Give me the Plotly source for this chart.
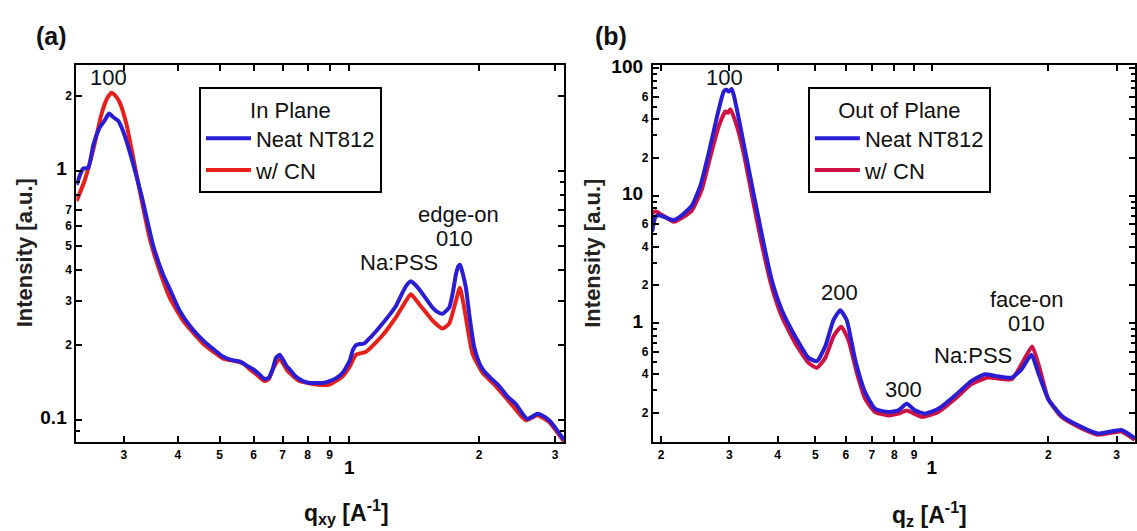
import plotly.graph_objects as go

FONT = "Liberation Sans, Arial, Helvetica, sans-serif"

# ---------------- data (a) In Plane ----------------
q_ip_neat = [0.233, 0.241, 0.248, 0.255, 0.264, 0.271, 0.277, 0.284, 0.291, 0.298,
             0.307, 0.316, 0.330, 0.343, 0.351, 0.370, 0.385, 0.404, 0.430, 0.458,
             0.485, 0.509, 0.535, 0.557, 0.580, 0.598, 0.620, 0.636, 0.650, 0.664,
             0.676, 0.689, 0.700, 0.715, 0.727, 0.750, 0.780, 0.810, 0.840, 0.870,
             0.899, 0.930, 0.965, 1.000, 1.020, 1.036, 1.060, 1.083, 1.120, 1.160,
             1.194, 1.240, 1.283, 1.320, 1.353, 1.389, 1.420, 1.452, 1.500, 1.559,
             1.600, 1.644, 1.704, 1.740, 1.766, 1.790, 1.807, 1.830, 1.863, 1.900,
             1.947, 2.000, 2.053, 2.140, 2.225, 2.330, 2.432, 2.530, 2.587, 2.650,
             2.728, 2.810, 2.904, 3.020, 3.146]
i_ip_neat = [0.88, 1.02, 1.03, 1.28, 1.50, 1.60, 1.70, 1.64, 1.59, 1.46,
             1.25, 1.05, 0.79, 0.59, 0.50, 0.383, 0.330, 0.275, 0.235, 0.209,
             0.192, 0.180, 0.174, 0.172, 0.165, 0.160, 0.152, 0.146, 0.148, 0.160,
             0.178, 0.183, 0.176, 0.165, 0.160, 0.150, 0.1435, 0.141, 0.141, 0.141,
             0.1435, 0.147, 0.155, 0.172, 0.192, 0.200, 0.202, 0.203, 0.215, 0.230,
             0.244, 0.265, 0.288, 0.318, 0.345, 0.361, 0.350, 0.335, 0.310, 0.283,
             0.272, 0.267, 0.283, 0.330, 0.383, 0.415, 0.420, 0.390, 0.340, 0.260,
             0.197, 0.170, 0.157, 0.146, 0.137, 0.124, 0.116, 0.105, 0.101, 0.103,
             0.106, 0.104, 0.0998, 0.092, 0.0832]

q_ip_cn = [0.233, 0.2435, 0.2545, 0.2661, 0.274, 0.2808, 0.287, 0.2935, 0.3041, 0.315,
           0.3295, 0.3444, 0.3633, 0.3831, 0.4113, 0.4575, 0.5088, 0.5467, 0.570, 0.587,
           0.610, 0.6357, 0.650, 0.6644, 0.6887, 0.700, 0.7199, 0.7661, 0.8374, 0.899,
           0.9649, 1.000, 1.036, 1.093, 1.194, 1.283, 1.353, 1.389, 1.452, 1.559,
           1.644, 1.704, 1.766, 1.804, 1.846, 1.929, 2.035, 2.186, 2.388, 2.565,
           2.728, 2.904, 3.146]
i_ip_cn = [0.757, 0.92, 1.21, 1.69, 1.95, 2.06, 2.00, 1.88, 1.54, 1.14,
           0.77, 0.535, 0.395, 0.310, 0.251, 0.203, 0.177, 0.172, 0.168, 0.160,
           0.152, 0.1435, 0.146, 0.160, 0.177, 0.170, 0.157, 0.1435, 0.139, 0.139,
           0.150, 0.163, 0.183, 0.188, 0.219, 0.259, 0.301, 0.320, 0.292, 0.251,
           0.233, 0.244, 0.301, 0.340, 0.283, 0.1855, 0.155, 0.137, 0.1144, 0.0998,
           0.1045, 0.0983, 0.082]

# ---------------- data (b) Out of Plane ----------------
q_op_neat = [0.1896, 0.1934, 0.1973, 0.2157, 0.2265, 0.2404, 0.2527, 0.2655, 0.2788, 0.2902,
             0.2950, 0.2990, 0.3040, 0.3080, 0.3141, 0.3266, 0.3432, 0.3641, 0.3865, 0.4101,
             0.4440, 0.4805, 0.5047, 0.5306, 0.5572, 0.5800, 0.6030, 0.6340, 0.6727, 0.7138,
             0.7725, 0.8197, 0.8612, 0.9051, 0.9605, 1.0394, 1.1475, 1.2665, 1.3714, 1.4552,
             1.6059, 1.7036, 1.8077, 1.8818, 1.9966, 2.160, 2.386, 2.686, 3.085, 3.340]
i_op_neat = [5.25, 6.86, 7.07, 6.47, 7.07, 8.45, 12.1, 21.8, 41.8, 66.0,
             68.0, 66.0, 69.0, 62.0, 47.1, 26.0, 12.1, 4.95, 2.16, 1.27,
             0.79, 0.537, 0.506, 0.661, 1.06, 1.27, 1.06, 0.52, 0.288, 0.214,
             0.202, 0.208, 0.234, 0.208, 0.196, 0.214, 0.272, 0.355, 0.399, 0.388,
             0.376, 0.436, 0.569, 0.411, 0.256, 0.190, 0.159, 0.137, 0.146, 0.126]

q_op_cn = [0.1896, 0.1934, 0.2157, 0.2265, 0.2404, 0.2551, 0.2682, 0.2816, 0.2931, 0.2975,
           0.3019, 0.3141, 0.3266, 0.3432, 0.3641, 0.3865, 0.4101, 0.4440, 0.4805, 0.5047,
           0.5306, 0.5572, 0.5834, 0.6091, 0.6400, 0.6727, 0.7138, 0.7725, 0.8197, 0.8612,
           0.9412, 1.0394, 1.1475, 1.2665, 1.3985, 1.6059, 1.7036, 1.8155, 1.9010, 1.9966,
           2.160, 2.386, 2.686, 3.085, 3.340]
i_op_cn = [7.3, 7.6, 6.28, 6.74, 7.73, 11.4, 20.5, 35.0, 46.0, 45.0,
           48.0, 35.0, 21.8, 10.1, 4.15, 1.92, 1.13, 0.70, 0.491, 0.449,
           0.537, 0.79, 0.943, 0.743, 0.411, 0.256, 0.202, 0.190, 0.196, 0.208,
           0.185, 0.202, 0.256, 0.334, 0.376, 0.365, 0.477, 0.661, 0.436, 0.256,
           0.185, 0.155, 0.134, 0.142, 0.122]

# ---------------- ticks ----------------
BIG = "<span style='font-size:19px'>{}</span>"
xa_tickvals = [0.3, 0.4, 0.5, 0.6, 0.7, 0.8, 0.9, 1, 2, 3]
xa_ticktext = ["3", "4", "5", "6", "7", "8", "9", "<br>" + BIG.format("1"), "2", "3"]
ya_tickvals = [0.1, 0.2, 0.3, 0.4, 0.5, 0.6, 0.7, 1, 2]
ya_ticktext = [BIG.format("0.1\u00a0"), "2", "3", "4", "5", "6", "7", BIG.format("1\u00a0"), "2"]
ya_minor = [0.09, 0.8, 0.9]

xb_tickvals = [0.2, 0.3, 0.4, 0.5, 0.6, 0.7, 0.8, 0.9, 1, 2, 3]
xb_ticktext = ["2", "3", "4", "5", "6", "7", "8", "9", "<br>" + BIG.format("1"), "2", "3"]
yb_tickvals = [0.2, 0.4, 0.6, 1, 2, 4, 6, 10, 20, 40, 60, 100]
yb_ticktext = ["2", "4", "6", BIG.format("1\u00a0"), "2", "4", "6", BIG.format("10\u00a0"),
               "2", "4", "6", BIG.format("100\u00a0")]
yb_minor = [0.3, 0.5, 0.7, 0.8, 0.9, 3, 5, 7, 8, 9, 30, 50, 70, 80, 90]

BLUE = "#2a1ed4"
RED_A = "#e8201c"
RED_B = "#cf1244"

fig = go.Figure()
line_kw = dict(width=4, shape="spline", smoothing=0.5)

fig.add_trace(go.Scatter(x=q_ip_cn, y=i_ip_cn, name="w/ CN", mode="lines",
                         line=dict(color=RED_A, **line_kw), xaxis="x", yaxis="y",
                         legend="legend", legendrank=2))
fig.add_trace(go.Scatter(x=q_ip_neat, y=i_ip_neat, name="Neat NT812", mode="lines",
                         line=dict(color=BLUE, **line_kw), xaxis="x", yaxis="y",
                         legend="legend", legendrank=1))
fig.add_trace(go.Scatter(x=q_op_cn, y=i_op_cn, name="w/ CN", mode="lines",
                         line=dict(color=RED_B, **line_kw), xaxis="x2", yaxis="y2",
                         legend="legend2", legendrank=2))
fig.add_trace(go.Scatter(x=q_op_neat, y=i_op_neat, name="Neat NT812", mode="lines",
                         line=dict(color=BLUE, **line_kw), xaxis="x2", yaxis="y2",
                         legend="legend2", legendrank=1))

tickfont = dict(family=FONT, size=12, color="black", weight="bold")
common = dict(type="log", showline=True, linewidth=2, linecolor="black", mirror="ticks",
              ticks="inside", ticklen=6, tickwidth=1.5, tickcolor="black",
              showgrid=False, zeroline=False, tickmode="array", tickfont=tickfont)

LEG_FONT = dict(family=FONT, size=22, color="#111")
fig.update_layout(
    width=1137, height=531, margin=dict(l=0, r=0, t=0, b=0),
    paper_bgcolor="white", plot_bgcolor="white",
    font=dict(family=FONT, color="#111"),
    showlegend=True,
    xaxis=dict(domain=[0.0673, 0.4969], range=[-0.6331, 0.4977], anchor="y",
               tickvals=xa_tickvals, ticktext=xa_ticktext, **common),
    yaxis=dict(domain=[0.1700, 0.8936], range=[-1.0890, 0.4273], anchor="x",
               tickvals=ya_tickvals, ticktext=ya_ticktext,
               minor=dict(tickvals=ya_minor, ticklen=4, ticks="inside", tickcolor="black"),
               **common),
    xaxis2=dict(domain=[0.5751, 1.0], range=[-0.7206, 0.5245], anchor="y2",
                tickvals=xb_tickvals, ticktext=xb_ticktext, **common),
    yaxis2=dict(domain=[0.1700, 0.8936], range=[-0.932, 2.031], anchor="x2",
                tickvals=yb_tickvals, ticktext=yb_ticktext,
                minor=dict(tickvals=yb_minor, ticklen=4, ticks="inside", tickcolor="black"),
                **common),
    legend=dict(x=0.1753, y=0.8507, xanchor="left", yanchor="top",
                bgcolor="white", bordercolor="black", borderwidth=2,
                font=LEG_FONT,
                title=dict(text="In Plane", side="top center", font=LEG_FONT),
                itemwidth=45, tracegroupgap=0),
    legend2=dict(x=0.7118, y=0.8507, xanchor="left", yanchor="top",
                 bgcolor="white", bordercolor="black", borderwidth=2,
                 font=LEG_FONT,
                 title=dict(text="Out of Plane", side="top center", font=LEG_FONT),
                 itemwidth=45, tracegroupgap=0),
)

ann_font = dict(family=FONT, size=22, color="#111")
labels = [
    ("100", 108.3, 69.7), ("edge-on", 459, 209), ("010", 455, 233.3), ("Na:PSS", 400, 257.5),
    ("100", 726, 69.5), ("200", 840.8, 288.7), ("300", 905, 386.7), ("Na:PSS", 975, 352.5),
    ("face-on", 1028.3, 295), ("010", 1028.3, 320),
]
for txt, px, py in labels:
    fig.add_annotation(text=txt, x=px / 1137, y=1 - py / 531, xref="paper", yref="paper",
                       xanchor="center", yanchor="middle", showarrow=False, font=ann_font)

for txt, px, py in [("(a)", 51.8, 27.8), ("(b)", 611.6, 27.0)]:
    fig.add_annotation(text="<b>" + txt + "</b>", x=px / 1137, y=1 - py / 531,
                       xref="paper", yref="paper", xanchor="center", yanchor="middle",
                       showarrow=False, font=dict(family=FONT, size=25, color="#111"))

title_font = dict(family=FONT, size=23, color="#111")
fig.add_annotation(text="<b>q<sub>xy</sub> [A<sup>-1</sup>]</b>", x=347 / 1137, y=1 - 512 / 531,
                   xref="paper", yref="paper", xanchor="center", yanchor="middle",
                   showarrow=False, font=title_font)
fig.add_annotation(text="<b>q<sub>z</sub> [A<sup>-1</sup>]</b>", x=931 / 1137, y=1 - 514 / 531,
                   xref="paper", yref="paper", xanchor="center", yanchor="middle",
                   showarrow=False, font=title_font)
for px in (24.5, 594):
    fig.add_annotation(text="<b>Intensity [a.u.]</b>", x=px / 1137, y=1 - 248 / 531,
                       xref="paper", yref="paper", xanchor="center", yanchor="middle",
                       textangle=-90, showarrow=False,
                       font=dict(family=FONT, size=22, color="#222"))

fig.write_html("out.html")
